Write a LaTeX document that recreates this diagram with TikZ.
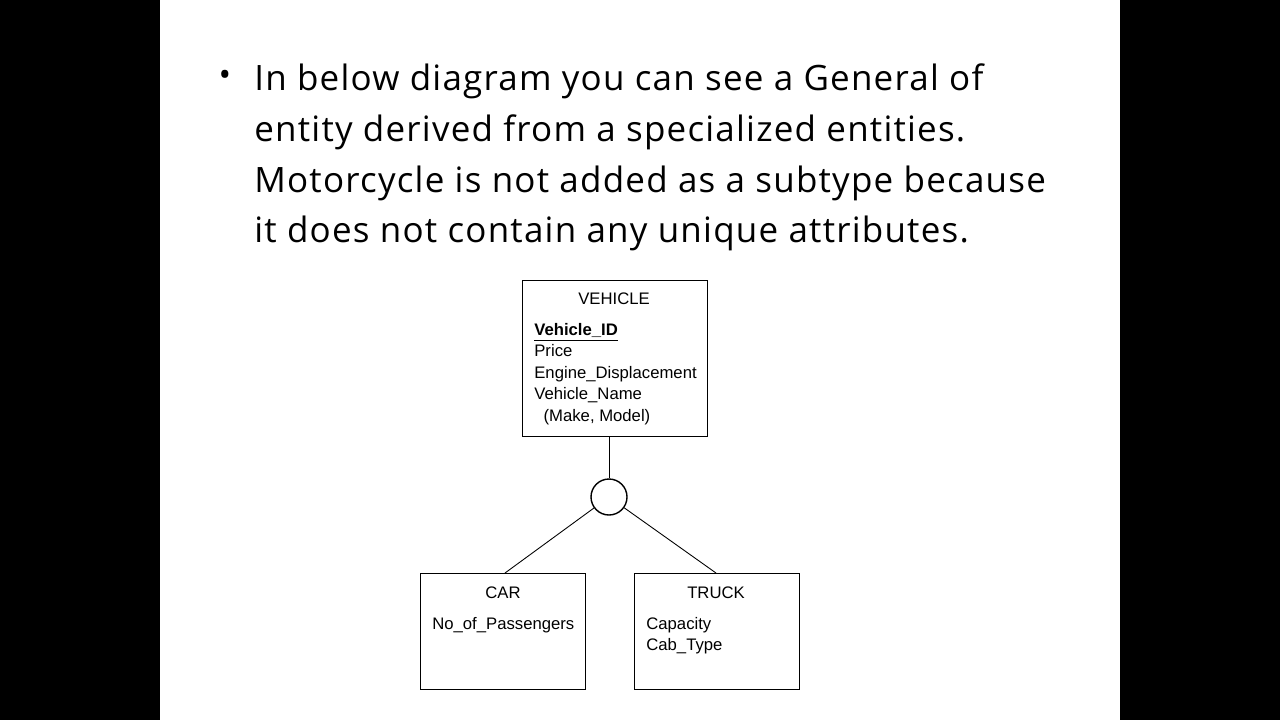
\documentclass[tikz,border=0pt]{standalone}
\usepackage{fontspec}
\setmainfont{Open Sans}[LetterSpace=3.5]
\newfontfamily\diag{Liberation Sans}
\begin{document}
\begin{tikzpicture}[x=0.02cm,y=-0.02cm,
  ent/.style={draw,line width=0.8pt,fill=white},
  lbl/.style={font=\diag\fontsize{9.5}{12.2}\selectfont,inner sep=0pt},
  conn/.style={line width=0.5pt}]
\useasboundingbox (0,0) rectangle (1280,720);
\fill[black] (0,0) rectangle (1280,720);
\fill[white] (160,0) rectangle (1120,720);
% bullet text
\node[anchor=center] (bul) at (225,78) {\fontsize{19}{29}\selectfont •};
\node[anchor=north west,inner sep=0pt,align=left,font=\fontsize{19.9}{29}\selectfont] (txt) at (254,63)
 {In below diagram you can see a General of\\entity derived from a specialized entities.\\Motorcycle is not added as a subtype because\\it does not contain any unique attributes.};
% boxes
\node[ent,minimum width=185*0.02cm,minimum height=156*0.02cm,anchor=north west] (veh) at (522,280) {};
\node[lbl] (vt) at (614,299) {VEHICLE};
\node[lbl,anchor=north west,align=left] (va) at (534,323) {\underline{\textbf{Vehicle\_ID}}\\Price\\Engine\_Displacement\\Vehicle\_Name\\\ \ (Make, Model)};
\node[ent,circle,minimum size=36*0.02cm,inner sep=0pt] (c) at (609,497) {};
\node[ent,minimum width=165*0.02cm,minimum height=116*0.02cm,anchor=north west] (car) at (420,573) {};
\node[lbl] (ct) at (503,593) {CAR};
\node[lbl,anchor=north west] (ca) at (432,617) {No\_of\_Passengers};
\node[ent,minimum width=165*0.02cm,minimum height=116*0.02cm,anchor=north west] (tr) at (634,573) {};
\node[lbl] (tt) at (716,593) {TRUCK};
\node[lbl,anchor=north west,align=left] (ta) at (646,617) {Capacity\\Cab\_Type};
\coordinate (vb) at (609,436);
\coordinate (cartop) at (505,573);
\coordinate (trtop) at (716,573);
\draw[conn] (vb) -- (c.north);
\draw[conn] (c) -- (cartop);
\draw[conn] (c) -- (trtop);
\end{tikzpicture}
\end{document}
